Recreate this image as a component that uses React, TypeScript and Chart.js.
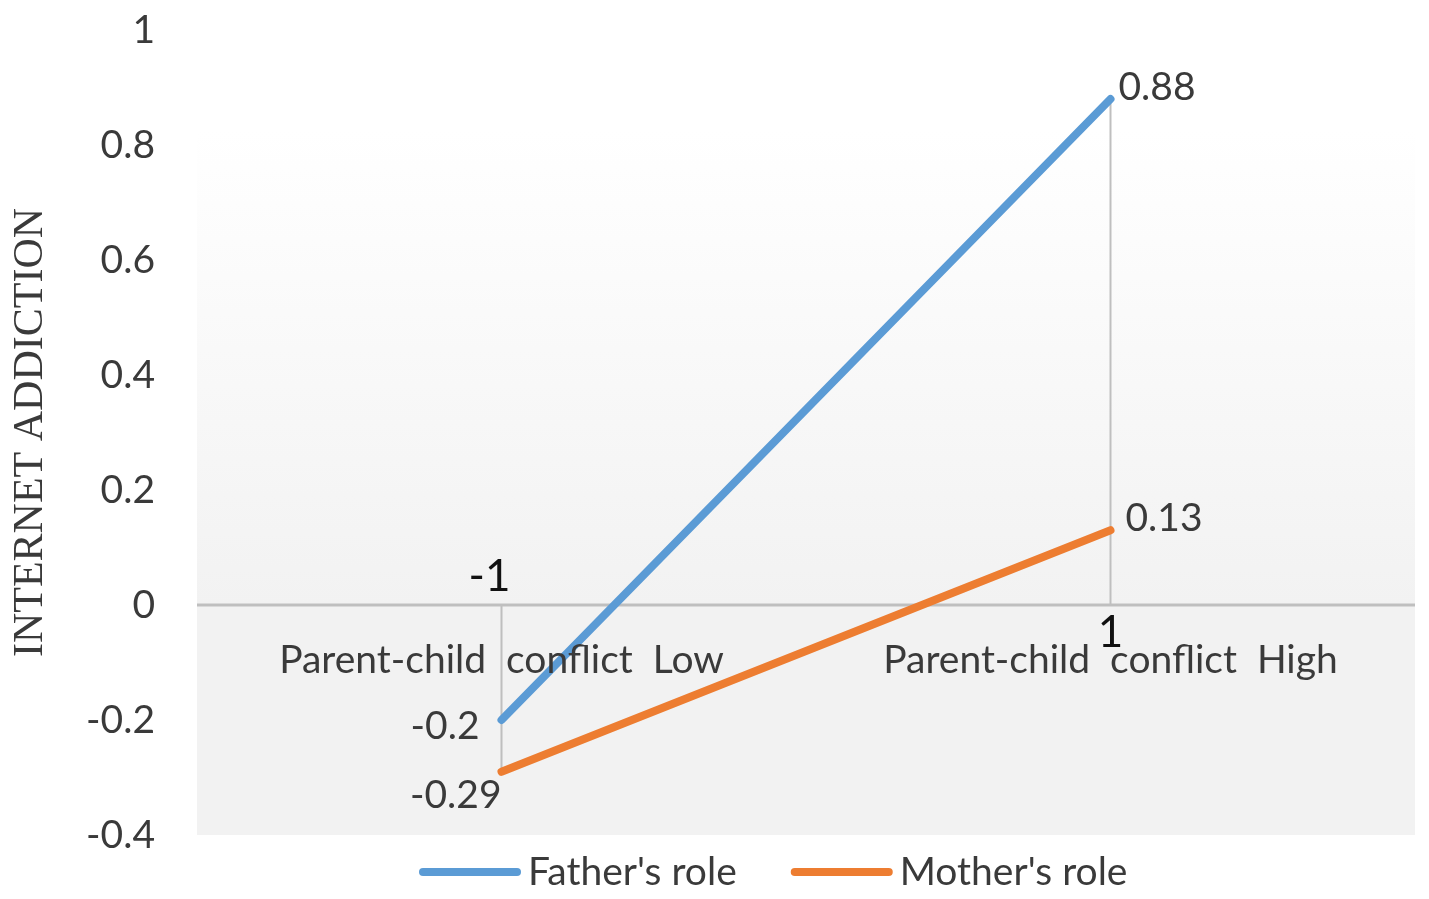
import { useEffect, useRef } from "react";
import { Chart, registerables, type ChartConfiguration, type Plugin } from "chart.js";

Chart.register(...registerables);

// levels of parent-child conflict (coded -1 / +1)
const conflictLevels = [-1, 1];
const conflictLabels = ["Parent-child  conflict  Low", "Parent-child  conflict  High"];
const levelMarks = ["-1", "1"];

const fatherRole = [-0.2, 0.88];
const motherRole = [-0.29, 0.13];
const seriesNames = ["Father's role", "Mother's role"];

const yMin = -0.4;
const yMax = 1;
const yStep = 0.2;
const xMin = -2;
const xMax = 2;

const BLUE = "#5b9bd5";
const ORANGE = "#ed7d31";
const GREY_TEXT = "#3a3a3a";
const SANS = "Lato, 'Open Sans', sans-serif";
const FS = 39;

const fmt = (v: number) => String(Number(v.toFixed(2)));

// panel, axis line and the two vertical drop lines
const backdrop: Plugin = {
  id: "backdrop",
  beforeDatasetsDraw(chart) {
    const { ctx, chartArea, scales } = chart;
    const x = scales.x;
    const y = scales.y;
    const top = chartArea.top + 100;
    const zeroY = y.getPixelForValue(0);
    ctx.save();
    const g = ctx.createLinearGradient(0, top, 0, zeroY);
    g.addColorStop(0, "#ffffff");
    g.addColorStop(1, "#f2f2f2");
    ctx.fillStyle = g;
    ctx.fillRect(chartArea.left, top, chartArea.right - chartArea.left, zeroY - top);
    ctx.fillStyle = "#f2f2f2";
    ctx.fillRect(chartArea.left, zeroY, chartArea.right - chartArea.left, chartArea.bottom - zeroY);

    ctx.strokeStyle = "#bfbfbf";
    ctx.lineWidth = 2;
    conflictLevels.forEach((lv, i) => {
      const vals = [fatherRole[i], motherRole[i]];
      const end = lv < 0 ? Math.min(...vals) : Math.max(...vals);
      const px = x.getPixelForValue(lv);
      ctx.beginPath();
      ctx.moveTo(px, zeroY);
      ctx.lineTo(px, y.getPixelForValue(end));
      ctx.stroke();
    });
    ctx.lineWidth = 3;
    ctx.beginPath();
    ctx.moveTo(chartArea.left, zeroY);
    ctx.lineTo(chartArea.right, zeroY);
    ctx.stroke();
    ctx.restore();
  },
  afterDatasetsDraw(chart) {
    const { ctx, scales } = chart;
    const x = scales.x;
    const y = scales.y;
    const zeroY = y.getPixelForValue(0);
    ctx.save();
    ctx.textBaseline = "middle";

    // category labels under the axis
    ctx.font = `${FS}px ${SANS}`;
    ctx.fillStyle = GREY_TEXT;
    ctx.textAlign = "center";
    conflictLevels.forEach((lv, i) => {
      ctx.fillText(conflictLabels[i], x.getPixelForValue(lv), zeroY + 55);
    });

    // -1 / 1 marks
    ctx.font = `44px ${SANS}`;
    ctx.fillStyle = "#111111";
    ctx.fillText(levelMarks[0], x.getPixelForValue(conflictLevels[0]) - 12, zeroY - 28);
    ctx.fillText(levelMarks[1], x.getPixelForValue(conflictLevels[1]), zeroY + 28);

    // value labels
    ctx.font = `${FS}px ${SANS}`;
    ctx.fillStyle = GREY_TEXT;
    const place = [
      [[-22, 6, "right"], [8, -12, "left"]],
      [[0, 24, "right"], [15, -12, "left"]],
    ] as const;
    [fatherRole, motherRole].forEach((series, s) => {
      series.forEach((v, i) => {
        const [dx, dy, align] = place[s][i];
        ctx.textAlign = align;
        ctx.fillText(fmt(v), x.getPixelForValue(conflictLevels[i]) + dx, y.getPixelForValue(v) + dy);
      });
    });

    // legend
    const ly = 872;
    let lx = 423;
    [BLUE, ORANGE].forEach((c, i) => {
      ctx.strokeStyle = c;
      ctx.lineWidth = 8;
      ctx.lineCap = "round";
      ctx.beginPath();
      ctx.moveTo(lx, ly);
      ctx.lineTo(lx + 94, ly);
      ctx.stroke();
      ctx.textAlign = "left";
      ctx.fillStyle = GREY_TEXT;
      ctx.fillText(seriesNames[i], lx + 105, ly);
      lx += 105 + ctx.measureText(seriesNames[i]).width + 58;
    });
    ctx.restore();
  },
};

export default function App() {
  const canvasRef = useRef<HTMLCanvasElement>(null);

  useEffect(() => {
    if (!canvasRef.current) return;
    const config: ChartConfiguration<"scatter"> = {
      type: "scatter",
      data: {
        datasets: [
          {
            label: seriesNames[0],
            data: conflictLevels.map((lv, i) => ({ x: lv, y: fatherRole[i] })),
            borderColor: BLUE,
            backgroundColor: BLUE,
            showLine: true,
            borderWidth: 8,
            borderCapStyle: "round",
            pointRadius: 0,
          },
          {
            label: seriesNames[1],
            data: conflictLevels.map((lv, i) => ({ x: lv, y: motherRole[i] })),
            borderColor: ORANGE,
            backgroundColor: ORANGE,
            showLine: true,
            borderWidth: 8,
            borderCapStyle: "round",
            pointRadius: 0,
          },
        ],
      },
      options: {
        animation: false,
        responsive: true,
        maintainAspectRatio: false,
        layout: { padding: { left: 0, top: 30, right: 14, bottom: 64 } },
        plugins: { legend: { display: false }, tooltip: { enabled: false } },
        scales: {
          x: { type: "linear", min: xMin, max: xMax, display: false },
          y: {
            type: "linear",
            min: yMin,
            max: yMax,
            grid: { display: false, drawTicks: false },
            border: { display: false },
            ticks: {
              stepSize: yStep,
              padding: 42,
              color: GREY_TEXT,
              font: { family: SANS, size: FS },
              callback: (v) => fmt(Number(v)),
            },
            title: {
              display: true,
              text: "INTERNET ADDICTION",
              color: GREY_TEXT,
              font: { family: "'Liberation Serif', 'DejaVu Serif', serif", size: 42 },
              padding: { top: 6, bottom: 0 },
            },
            afterFit: (scale) => {
              scale.width = 197;
              scale.paddingTop = 0;
              scale.paddingBottom = 0;
            },
          },
        },
      },
      plugins: [backdrop],
    };
    const chart = new Chart(canvasRef.current, config);
    return () => chart.destroy();
  }, []);

  return (
    <div style={{ position: "absolute", left: 0, top: 0, width: 1429, height: 899, background: "#fff" }}>
      <canvas ref={canvasRef} />
    </div>
  );
}
